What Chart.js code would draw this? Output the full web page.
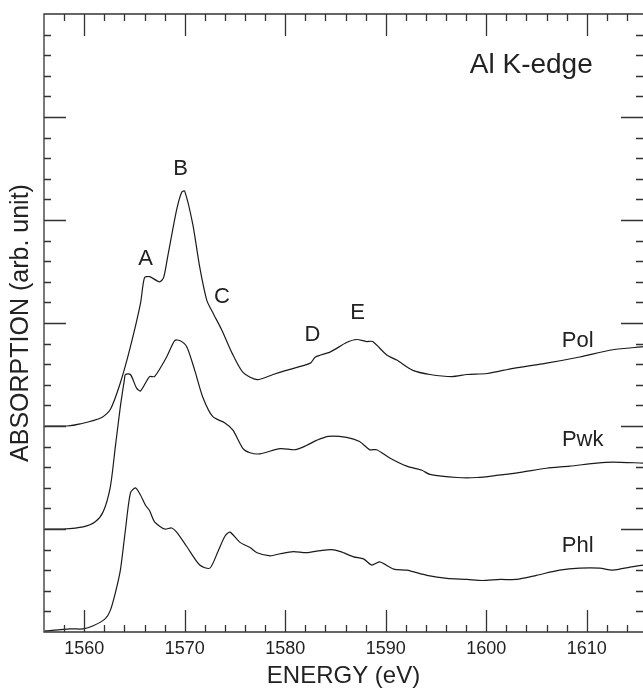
<!DOCTYPE html>
<html>
<head>
<meta charset="utf-8">
<script src="https://cdn.jsdelivr.net/npm/chart.js@4.4.0/dist/chart.umd.min.js"></script>
<style>
  html, body { margin: 0; padding: 0; background: #fff; overflow: hidden; }
  #wrap { width: 643px; height: 688px; }
</style>
</head>
<body>
<div id="wrap"><canvas id="chart" width="643" height="688"></canvas></div>
<script>
// Data (energy in eV, absorption in arb. units incl. vertical offset)
const polEnergy = [1556.1, 1558.3, 1559.6, 1561.7, 1562.6, 1563.6, 1564.6, 1565.6, 1566.0, 1566.5, 1567.5, 1567.9, 1568.3, 1569.2, 1569.7, 1570.0, 1570.8, 1571.5, 1572.2, 1572.8, 1573.7, 1574.7, 1575.8, 1577.2, 1578.8, 1580.1, 1582.5, 1583.0, 1584.5, 1586.1, 1587.1, 1588.1, 1588.7, 1590.1, 1591.1, 1592.7, 1594.4, 1596.6, 1598.1, 1600.1, 1602.7, 1606.0, 1609.3, 1612.6, 1615.6];
const polAbs = [2.00, 2.00, 2.02, 2.08, 2.16, 2.42, 2.77, 3.19, 3.44, 3.45, 3.40, 3.44, 3.64, 4.10, 4.27, 4.28, 3.96, 3.54, 3.22, 3.10, 2.93, 2.71, 2.52, 2.45, 2.50, 2.54, 2.61, 2.67, 2.72, 2.81, 2.84, 2.82, 2.82, 2.69, 2.64, 2.54, 2.50, 2.48, 2.50, 2.51, 2.56, 2.61, 2.67, 2.74, 2.77];

const pwkEnergy = [1556.1, 1557.9, 1559.9, 1561.1, 1561.9, 1562.6, 1563.1, 1563.6, 1564.0, 1564.1, 1564.6, 1565.2, 1565.6, 1566.5, 1567.0, 1568.2, 1569.0, 1569.5, 1570.2, 1571.0, 1571.8, 1572.8, 1574.0, 1574.8, 1575.8, 1576.5, 1577.5, 1579.5, 1581.0, 1582.1, 1583.1, 1584.3, 1586.1, 1587.4, 1588.4, 1589.1, 1590.4, 1592.1, 1593.6, 1594.4, 1597.1, 1599.1, 1601.0, 1603.4, 1606.0, 1608.3, 1611.0, 1612.6, 1615.6];
const pwkAbs = [1.00, 1.00, 1.02, 1.07, 1.17, 1.41, 1.80, 2.19, 2.45, 2.50, 2.50, 2.37, 2.34, 2.48, 2.48, 2.67, 2.83, 2.83, 2.77, 2.54, 2.28, 2.09, 2.03, 1.96, 1.78, 1.74, 1.73, 1.78, 1.77, 1.81, 1.86, 1.90, 1.89, 1.85, 1.77, 1.77, 1.69, 1.61, 1.57, 1.53, 1.50, 1.50, 1.52, 1.55, 1.59, 1.61, 1.64, 1.65, 1.64];

const phlEnergy = [1556.1, 1558.6, 1559.9, 1560.9, 1562.1, 1562.6, 1563.1, 1563.6, 1564.1, 1564.6, 1565.1, 1565.6, 1566.1, 1566.5, 1567.0, 1568.0, 1568.7, 1569.2, 1570.2, 1571.5, 1572.5, 1573.3, 1574.0, 1574.5, 1575.5, 1576.5, 1577.2, 1578.5, 1579.5, 1580.8, 1582.1, 1583.5, 1584.6, 1585.5, 1586.8, 1587.8, 1588.6, 1589.4, 1590.8, 1592.1, 1594.1, 1596.1, 1598.1, 1599.6, 1601.4, 1603.0, 1605.0, 1607.3, 1609.3, 1611.3, 1612.6, 1614.3, 1615.6];
const phlAbs = [0.01, 0.03, 0.03, 0.06, 0.13, 0.21, 0.38, 0.60, 0.99, 1.35, 1.40, 1.33, 1.23, 1.18, 1.07, 1.00, 1.01, 0.97, 0.83, 0.65, 0.62, 0.78, 0.93, 0.97, 0.87, 0.82, 0.77, 0.74, 0.76, 0.78, 0.77, 0.79, 0.80, 0.78, 0.73, 0.71, 0.65, 0.68, 0.61, 0.60, 0.55, 0.52, 0.51, 0.50, 0.51, 0.51, 0.55, 0.60, 0.62, 0.62, 0.60, 0.63, 0.65];

const xTickLabels = [1560, 1570, 1580, 1590, 1600, 1610];
const yMajorTicks = [1, 2, 3, 4, 5];

// Text annotations, placed in data coordinates
const annotations = [
  { text: 'A', x: 1566.1, y: 3.62, size: 22, align: 'center' },
  { text: 'B', x: 1569.6, y: 4.50, size: 22, align: 'center' },
  { text: 'C', x: 1573.7, y: 3.25, size: 22, align: 'center' },
  { text: 'D', x: 1582.7, y: 2.88, size: 22, align: 'center' },
  { text: 'E', x: 1587.2, y: 3.10, size: 22, align: 'center' },
  { text: 'Pol', x: 1609.1, y: 2.83, size: 22, align: 'center' },
  { text: 'Pwk', x: 1609.6, y: 1.86, size: 22, align: 'center' },
  { text: 'Phl', x: 1609.1, y: 0.84, size: 22, align: 'center' },
  { text: 'Al K-edge', x: 1610.6, y: 5.50, size: 28, align: 'right' }
];

const FONT = '"Liberation Sans", Arial, Helvetica, sans-serif';
const INK = '#222';

function toPoints(xs, ys) {
  return xs.map((x, i) => ({ x: x, y: ys[i] }));
}

// Inward ticks on all four sides plus the frame
const frameTicks = {
  id: 'frameTicks',
  afterDatasetsDraw(chart) {
    const { ctx, chartArea: a, scales: { x, y } } = chart;
    ctx.save();
    ctx.strokeStyle = '#333';
    ctx.lineWidth = 1.3;
    ctx.beginPath();
    ctx.moveTo(a.right + 2, a.top);
    ctx.lineTo(a.left, a.top);
    ctx.lineTo(a.left, a.bottom);
    ctx.lineTo(a.right + 2, a.bottom);

    for (let e = x.min + 2; e < x.max; e += 2) {
      const major = xTickLabels.includes(e);
      const len = major ? 22 : 7;
      const px = Math.round(x.getPixelForValue(e)) + 0.5;
      ctx.moveTo(px, a.bottom); ctx.lineTo(px, a.bottom - len);
      ctx.moveTo(px, a.top); ctx.lineTo(px, a.top + len);
    }
    for (let i = 1; i < 30; i++) {
      const v = i * 0.2;
      const major = yMajorTicks.includes(Math.round(v * 100) / 100);
      const len = major ? 22 : 7;
      const py = Math.round(y.getPixelForValue(v)) + 0.5;
      ctx.moveTo(a.left, py); ctx.lineTo(a.left + len, py);
      ctx.moveTo(a.right, py); ctx.lineTo(a.right - len, py);
    }
    ctx.stroke();

    ctx.fillStyle = INK;
    ctx.textBaseline = 'middle';
    annotations.forEach(t => {
      ctx.font = t.size + 'px ' + FONT;
      ctx.textAlign = t.align;
      ctx.fillText(t.text, x.getPixelForValue(t.x), y.getPixelForValue(t.y));
    });
    ctx.restore();
  }
};

const lineStyle = {
  borderColor: '#1a1a1a',
  borderWidth: 1.2,
  pointRadius: 0,
  tension: 0.25,
  fill: false
};

new Chart(document.getElementById('chart'), {
  type: 'line',
  data: {
    datasets: [
      Object.assign({ label: 'Pol', data: toPoints(polEnergy, polAbs) }, lineStyle),
      Object.assign({ label: 'Pwk', data: toPoints(pwkEnergy, pwkAbs) }, lineStyle),
      Object.assign({ label: 'Phl', data: toPoints(phlEnergy, phlAbs) }, lineStyle)
    ]
  },
  options: {
    responsive: false,
    animation: false,
    layout: { padding: { top: 14, right: 0, left: 0, bottom: 0 } },
    plugins: { legend: { display: false }, tooltip: { enabled: false } },
    scales: {
      x: {
        type: 'linear',
        min: 1556,
        max: 1615.6,
        grid: { display: false, drawTicks: false },
        border: { display: false },
        afterBuildTicks: s => { s.ticks = xTickLabels.map(v => ({ value: v })); },
        afterFit: s => { s.height = 56; },
        ticks: { color: INK, font: { family: FONT, size: 18 }, padding: 6, maxRotation: 0, callback: v => String(v) },
        title: { display: true, text: 'ENERGY (eV)', color: INK, font: { family: FONT, size: 24, lineHeight: 1 }, padding: { top: 0, bottom: 0 } }
      },
      y: {
        min: 0,
        max: 6,
        grid: { display: false, drawTicks: false },
        border: { display: false },
        ticks: { display: false },
        afterFit: s => { s.width = 44; },
        title: { display: true, text: 'ABSORPTION (arb. unit)', color: INK, font: { family: FONT, size: 25 }, padding: { top: 6, bottom: 0 } }
      }
    }
  },
  plugins: [frameTicks]
});
</script>
</body>
</html>
